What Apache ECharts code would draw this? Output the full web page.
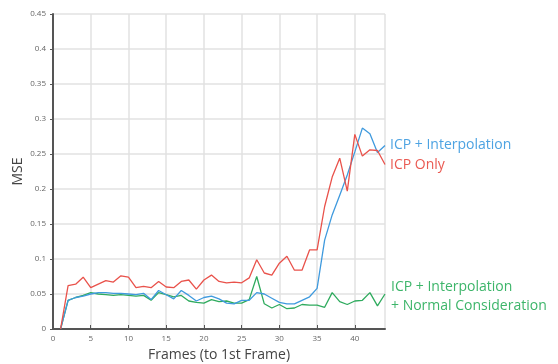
<!DOCTYPE html>
<html><head><meta charset="utf-8">
<script src="https://cdn.jsdelivr.net/npm/echarts@6/dist/echarts.min.js"></script>
<style>html,body{margin:0;padding:0;background:#fff}#c{width:558px;height:364px}</style>
</head><body><div id="c"></div>
<script>
const frames = [1,2,3,4,5,6,7,8,9,10,11,12,13,14,15,16,17,18,19,20,21,22,23,24,25,26,27,28,29,30,31,32,33,34,35,36,37,38,39,40,41,42,43,44];
const icpOnly = [0,0.062,0.064,0.074,0.059,0.064,0.069,0.067,0.076,0.074,0.059,0.061,0.059,0.068,0.060,0.059,0.068,0.070,0.057,0.070,0.077,0.068,0.066,0.067,0.066,0.073,0.099,0.080,0.077,0.094,0.104,0.084,0.084,0.113,0.113,0.175,0.217,0.244,0.197,0.278,0.247,0.256,0.255,0.235];
const icpInterp = [0,0.041,0.045,0.047,0.050,0.052,0.052,0.051,0.051,0.050,0.049,0.051,0.042,0.055,0.049,0.043,0.055,0.048,0.040,0.045,0.047,0.043,0.037,0.036,0.041,0.041,0.052,0.050,0.044,0.038,0.036,0.036,0.041,0.046,0.058,0.127,0.163,0.191,0.220,0.253,0.287,0.279,0.252,0.262];
const icpNormal = [0,0.041,0.045,0.048,0.052,0.050,0.049,0.048,0.049,0.048,0.047,0.048,0.041,0.052,0.049,0.046,0.048,0.040,0.038,0.037,0.042,0.039,0.040,0.037,0.037,0.042,0.075,0.036,0.030,0.035,0.029,0.030,0.035,0.034,0.034,0.031,0.052,0.039,0.035,0.040,0.041,0.052,0.033,0.050];
const names = ['ICP + Interpolation','ICP Only','ICP + Interpolation\n+ Normal Consideration'];
const xTitle = 'Frames (to 1st Frame)';
const yTitle = 'MSE';

const RED = '#e9524b', BLUE = '#3f9ade', GREEN = '#2fab5e';
const pair = arr => frames.map((f,i)=>[f,arr[i]]);
const chart = echarts.init(document.getElementById('c'));
const gridC = '#e2e2e2', axisC = '#555';
chart.setOption({
  animation:false,
  grid:{left:53,right:173,top:14,bottom:35,containLabel:false,outerBoundsMode:'none'},
  xAxis:{type:'value',min:0,max:44,interval:5,
    name:xTitle,nameLocation:'middle',nameGap:19,nameMoveOverlap:false,
    nameTextStyle:{fontFamily:'Open Sans',fontSize:14,color:'#444'},
    axisLine:{lineStyle:{color:axisC,width:2}},
    axisTick:{inside:true,length:4,lineStyle:{color:axisC,width:1}},
    axisLabel:{fontFamily:'Open Sans',fontSize:8,color:'#666',margin:6,showMaxLabel:false},
    splitLine:{show:true,lineStyle:{color:gridC,width:1.5}}},
  yAxis:{type:'value',min:0,max:0.45,interval:0.05,
    name:yTitle,nameLocation:'middle',nameGap:28,nameMoveOverlap:false,
    nameTextStyle:{fontFamily:'Open Sans',fontSize:14,color:'#444'},
    axisLine:{show:true,lineStyle:{color:axisC,width:2}},
    axisTick:{show:true,length:3,lineStyle:{color:axisC,width:1}},
    axisLabel:{fontFamily:'Open Sans',fontSize:8,color:'#666',margin:7},
    splitLine:{show:true,lineStyle:{color:gridC,width:1.5}}},
  series:[
    {type:'line',name:names[2],data:pair(icpNormal),showSymbol:false,lineStyle:{color:GREEN,width:1.3},itemStyle:{color:GREEN}},
    {type:'line',name:names[0],data:pair(icpInterp),showSymbol:false,lineStyle:{color:BLUE,width:1.3},itemStyle:{color:BLUE}},
    {type:'line',name:names[1],data:pair(icpOnly),showSymbol:false,lineStyle:{color:RED,width:1.3},itemStyle:{color:RED}}
  ],
  graphic:[
    {type:'text',left:390,top:138,style:{text:names[0],fill:'#4da3e2',font:'14px "Open Sans"'}},
    {type:'text',left:390,top:158,style:{text:names[1],fill:'#ea5a52',font:'14px "Open Sans"'}},
    {type:'text',left:391,top:278,style:{text:names[2],fill:'#3db56a',font:'14px "Open Sans"',lineHeight:19}}
  ]
});
</script></body></html>
